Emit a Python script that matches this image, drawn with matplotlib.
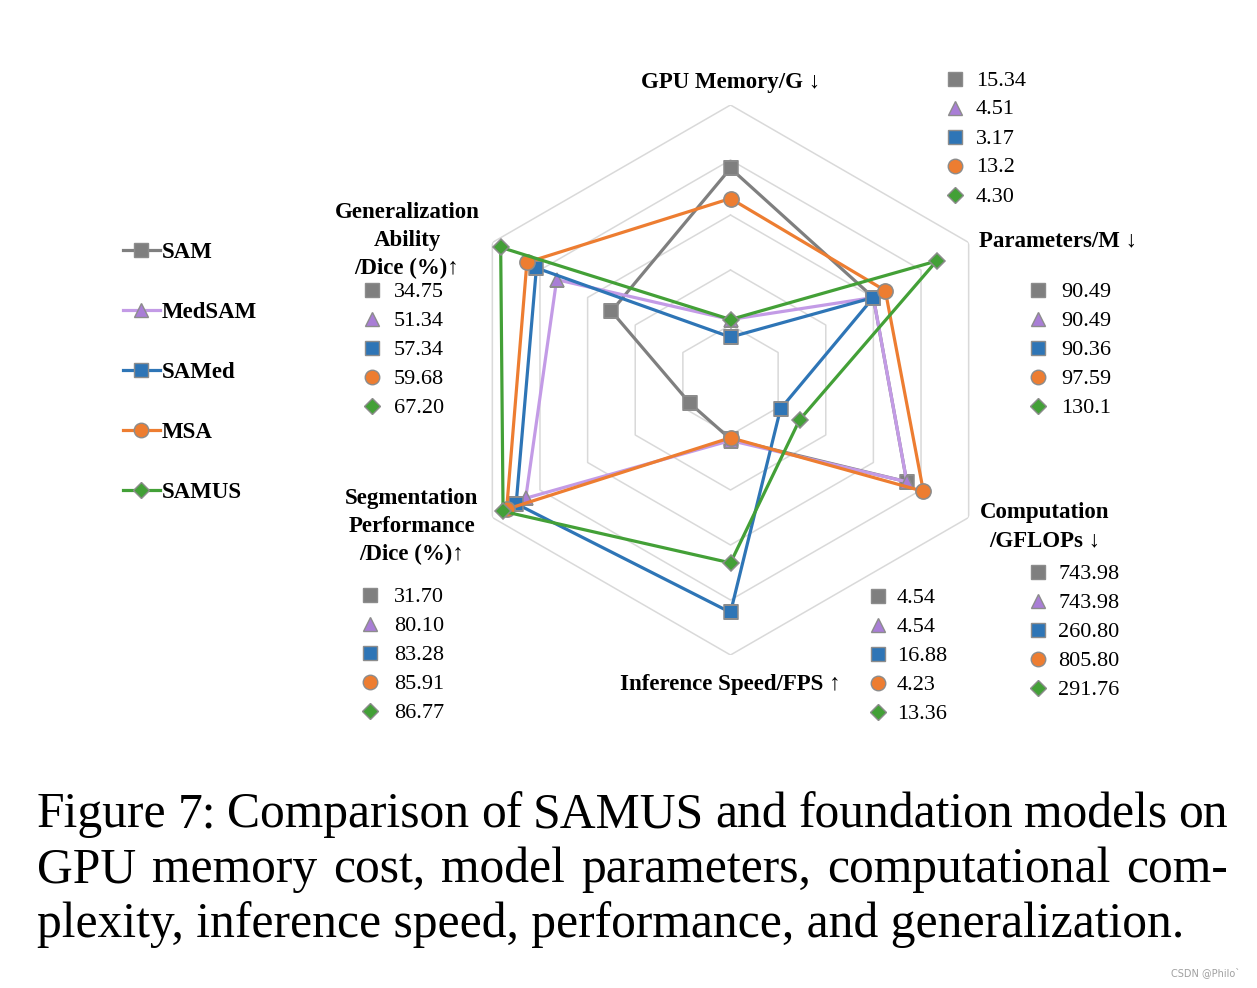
import numpy as np
import matplotlib
matplotlib.use("Agg")
import matplotlib.pyplot as plt

W, H = 1257, 988
SERIF = ["Liberation Serif", "DejaVu Serif"]

models = ["SAM", "MedSAM", "SAMed", "MSA", "SAMUS"]
colors = ["#7f7f7f", "#c39be6", "#2e75b6", "#ed7d31", "#43a037"]
mcolors = ["#7f7f7f", "#a97ed6", "#2e75b6", "#ed7d31", "#43a037"]
markers = ["s", "^", "s", "o", "D"]
msizes = [10, 10, 10, 11, 8.5]

# axis order, clockwise from the top
axis_titles = ["GPU Memory/G ↓", "Parameters/M ↓", "Computation\n/GFLOPs ↓",
               "Inference Speed/FPS ↑", "Segmentation\nPerformance\n/Dice (%)↑",
               "Generalization\nAbility\n/Dice (%)↑"]

# radial position of each point (0 = centre, 1 = outer ring)
r_sam = [0.77, 0.60, 0.74, 0.215, 0.17, 0.50]
r_medsam = [0.22, 0.60, 0.74, 0.22, 0.86, 0.73]
r_samed = [0.156, 0.60, 0.21, 0.845, 0.90, 0.815]
r_msa = [0.66, 0.65, 0.81, 0.21, 0.94, 0.855]
r_samus = [0.22, 0.865, 0.29, 0.665, 0.955, 0.965]
radii = [r_sam, r_medsam, r_samed, r_msa, r_samus]

# printed values next to each axis (SAM, MedSAM, SAMed, MSA, SAMUS)
gpu_vals = ["15.34", "4.51", "3.17", "13.2", "4.30"]
param_vals = ["90.49", "90.49", "90.36", "97.59", "130.1"]
flops_vals = ["743.98", "743.98", "260.80", "805.80", "291.76"]
fps_vals = ["4.54", "4.54", "16.88", "4.23", "13.36"]
seg_vals = ["31.70", "80.10", "83.28", "85.91", "86.77"]
gen_vals = ["34.75", "51.34", "57.34", "59.68", "67.20"]

rings = [0.2, 0.4, 0.6, 0.8, 1.0]

fig = plt.figure(figsize=(W / 100, H / 100), dpi=100)

# radar: centre at (730.5, 380) px, outer radius 275 px
cx, cy, R = 730.5, 380, 275
ax = fig.add_axes([(cx - R) / W, (H - cy - R) / H, 2 * R / W, 2 * R / H],
                  projection="polar")
ax.set_theta_zero_location("N")
ax.set_theta_direction(-1)
ax.set_ylim(0, 1)
ax.grid(False)
ax.set_xticks([])
ax.set_yticks([])
ax.spines["polar"].set_visible(False)
ax.patch.set_alpha(0)

theta = np.arange(6) * np.pi / 3
theta_c = np.append(theta, theta[0])
for lv in rings:
    ax.plot(theta_c, [lv] * 7, color="#d9d9d9", lw=1.1, zorder=1)

for i in range(5):
    r = radii[i] + [radii[i][0]]
    ax.plot(theta_c, r, color=colors[i], lw=2.3, zorder=2 + i)
    ax.plot(theta, radii[i], ls="none", marker=markers[i], ms=msizes[i],
            mfc=mcolors[i], mec="#8c8c8c", mew=1.1, zorder=2 + i)

# overlay in pixel coordinates for text and keys
ov = fig.add_axes([0, 0, 1, 1])
ov.set_xlim(0, W)
ov.set_ylim(H, 0)
ov.axis("off")
ov.patch.set_alpha(0)


def key(x, y, i):
    ov.plot([x], [y], marker=markers[i], ms=msizes[i] * 0.95, mfc=mcolors[i],
            mec="#8c8c8c", mew=1.0, ls="none")


def value_block(xm, xt, y0, vals):
    for i, v in enumerate(vals):
        y = y0 + i * 29
        key(xm, y, i)
        ov.text(xt, y + 2, v, fontsize=16, family=SERIF, va="center", ha="left")


def title(x, y, s, ha="center"):
    for j, line in enumerate(s.split("\n")):
        ov.text(x, y + 2.5 + j * 28, line, fontsize=16.5, family=SERIF,
                fontweight="bold", va="center", ha=ha)


# left legend
for i, m in enumerate(models):
    y = 250 + i * 60
    ov.plot([123, 160], [y, y], color=colors[i], lw=2.3)
    key(141, y, i)
    ov.text(162, y + 2, m, fontsize=16.5, family=SERIF, fontweight="bold",
            va="center", ha="left")

title(731, 80, axis_titles[0])
value_block(955, 976, 79, gpu_vals)
title(979, 238, axis_titles[1], ha="left")
value_block(1038, 1061, 290, param_vals)
title(1045, 510, axis_titles[2])
value_block(1038, 1058, 572, flops_vals)
title(730, 682, axis_titles[3])
value_block(878, 897, 596, fps_vals)
title(412, 496, axis_titles[4])
value_block(370, 394, 595, seg_vals)
title(407, 210, axis_titles[5])
value_block(372, 394, 290, gen_vals)

# caption, justified like the paper
cap_lines = ["Figure 7: Comparison of SAMUS and foundation models on",
             "GPU memory cost, model parameters, computational com-",
             "plexity, inference speed, performance, and generalization."]
renderer = fig.canvas.get_renderer()
probe = ov.text(0, 0, cap_lines[2], fontsize=36, family=SERIF)
cap_size = 36 * 1148 / probe.get_window_extent(renderer).width
probe.remove()

x0, x1 = 37, 1228
for k, line in enumerate(cap_lines):
    yb = 827 + k * 55
    if k == 2:
        ov.text(x0, yb, line, fontsize=cap_size, family=SERIF, va="baseline")
        continue
    words = line.split(" ")
    ts = [ov.text(0, yb, w, fontsize=cap_size, family=SERIF, va="baseline")
          for w in words]
    ws = [t.get_window_extent(renderer).width for t in ts]
    gap = (x1 - x0 - sum(ws)) / (len(words) - 1)
    x = x0
    for t, w in zip(ts, ws):
        t.set_x(x)
        x += w + gap

ov.text(1240, 973, "CSDN @Philo`", fontsize=7, color="#a0a0a0",
        ha="right", va="center", family="DejaVu Sans")

fig.savefig("out.png", dpi=100)
